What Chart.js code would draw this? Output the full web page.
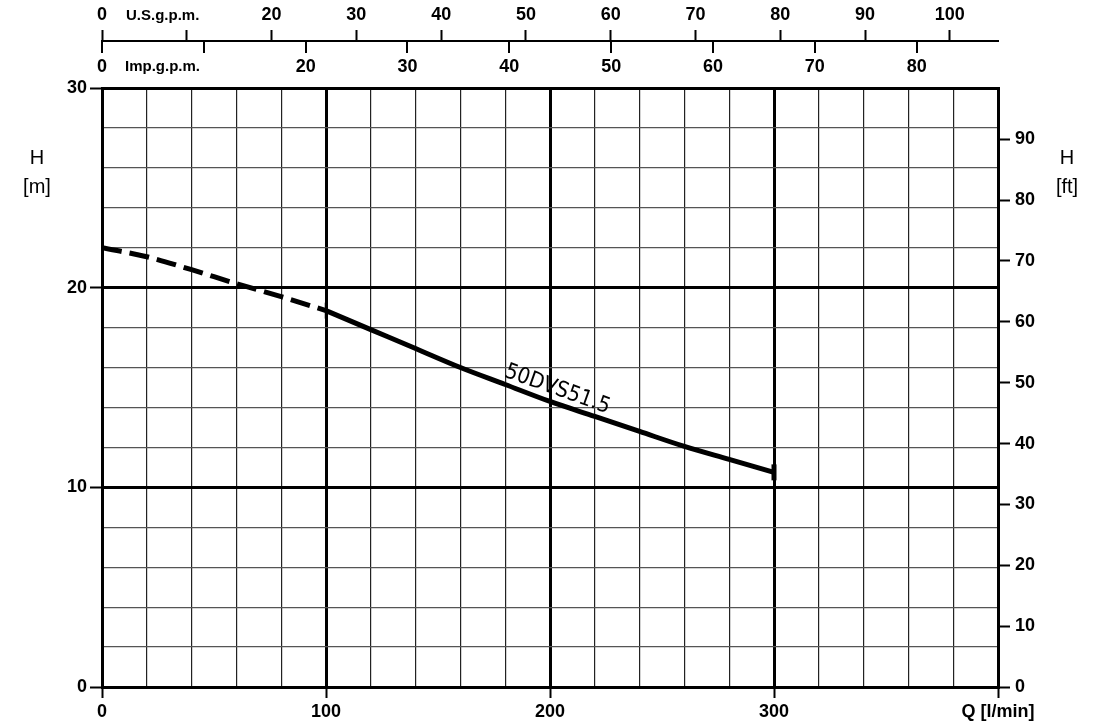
<!DOCTYPE html>
<html>
<head>
<meta charset="utf-8">
<script src="https://cdn.jsdelivr.net/npm/chart.js@4.4.1/dist/chart.umd.min.js"></script>
<style>
  html, body { margin: 0; padding: 0; background: #fff; }
  canvas { display: block; }
</style>
</head>
<body>
<canvas id="pumpChart" width="1107" height="725"></canvas>
<script>
// pump curve 50DVS51.5
const flowLpm = [0, 20, 40, 60, 80, 100, 120, 140, 160, 180, 200, 220, 240, 260, 280, 300];
const headM   = [22.0, 21.55, 20.9, 20.2, 19.55, 18.85, 17.9, 16.95, 16.0, 15.15, 14.3, 13.55, 12.8, 12.05, 11.4, 10.75];
const dashedUpTo = 100;          // curve is dashed below this flow
const curveName = '50DVS51.5';
const labelFlow = 200;

// axis ranges and labels
const qMax = 400, hMax = 30;
const qLabels = { 0: '0', 100: '100', 200: '200', 300: '300', 400: 'Q [l/min]' };
const hLabels = [0, 10, 20, 30];
const usGallon = 3.785, impGallon = 4.546, footM = 0.3048;
const usText = 'U.S.g.p.m.', impText = 'Imp.g.p.m.';

const tickFont = { family: '"Liberation Sans", Arial, sans-serif', size: 18, weight: 'bold' };
const black = '#000';

const pts = flowLpm.map((q, i) => ({ x: q, y: headM[i] }));
const dashedPts = pts.filter(p => p.x <= dashedUpTo);
const solidPts = pts.filter(p => p.x >= dashedUpTo);
const endMarks = [pts[flowLpm.indexOf(dashedUpTo)], pts[pts.length - 1]];

const extras = {
  id: 'extras',
  afterDraw(chart) {
    const { ctx, scales } = chart;
    const us = scales.us, imp = scales.imp, x = scales.x, y = scales.y;
    ctx.save();
    // Imp ticks hang below the shared line
    ctx.strokeStyle = black;
    ctx.lineWidth = 2;
    imp.ticks.forEach(t => {
      const px = Math.round(imp.getPixelForValue(t.value));
      ctx.beginPath();
      ctx.moveTo(px, us.bottom - 1);
      ctx.lineTo(px, us.bottom + 12);
      ctx.stroke();
    });

    ctx.fillStyle = black;
    ctx.textBaseline = 'middle';
    ctx.textAlign = 'left';
    ctx.font = 'bold 15px "Liberation Sans", Arial, sans-serif';
    ctx.fillText(usText, us.getPixelForValue(0) + 24, 16);
    ctx.fillText(impText, imp.getPixelForValue(0) + 23, 67);

    // H labels both sides
    ctx.textAlign = 'center';
    ctx.font = '20px "Liberation Sans", Arial, sans-serif';
    ctx.fillText('H', 37, 158);
    ctx.fillText('[m]', 37, 187);
    ctx.fillText('H', 1067, 158);
    ctx.fillText('[ft]', 1067, 187);

    // curve name along the line
    const i = flowLpm.indexOf(labelFlow);
    const x0 = x.getPixelForValue(flowLpm[i - 1]), y0 = y.getPixelForValue(headM[i - 1]);
    const x1 = x.getPixelForValue(flowLpm[i + 1]), y1 = y.getPixelForValue(headM[i + 1]);
    const ang = Math.atan2(y1 - y0, x1 - x0);
    ctx.translate(x.getPixelForValue(labelFlow) + 3, y.getPixelForValue(headM[i]));
    ctx.rotate(ang);
    ctx.textBaseline = 'alphabetic';
    ctx.font = '22px "DejaVu Sans Condensed", "Liberation Sans", sans-serif';
    ctx.fillText(curveName, 0, -7);
    ctx.restore();
  }
};

new Chart(document.getElementById('pumpChart'), {
  type: 'line',
  data: {
    datasets: [
      {
        data: dashedPts,
        borderColor: black,
        borderWidth: 5,
        borderDash: [20, 8],
        pointRadius: 0,
        cubicInterpolationMode: 'monotone',
        xAxisID: 'x', yAxisID: 'y'
      },
      {
        data: solidPts,
        borderColor: black,
        borderWidth: 5,
        pointRadius: 0,
        cubicInterpolationMode: 'monotone',
        xAxisID: 'x', yAxisID: 'y'
      },
      {
        data: endMarks,
        showLine: false,
        pointStyle: 'line',
        rotation: 90,
        pointRadius: 8,
        pointBorderWidth: [2.5, 5],
        pointBorderColor: black,
        xAxisID: 'x', yAxisID: 'y'
      }
    ]
  },
  options: {
    responsive: false,
    animation: false,
    devicePixelRatio: 1,
    layout: { padding: 0 },
    plugins: { legend: { display: false }, tooltip: { enabled: false } },
    scales: {
      x: {
        type: 'linear', position: 'bottom', min: 0, max: qMax,
        afterFit: s => { s.height = 38; },
        border: { display: true, width: 3, color: black },
        grid: {
          color: c => c.tick && c.tick.value % 100 === 0 ? black : '#222',
          lineWidth: c => c.tick && c.tick.value % 100 === 0 ? 3 : 1.2,
          tickLength: 11,
          tickWidth: 2,
          tickColor: c => c.tick && c.tick.value % 100 === 0 ? black : 'rgba(0,0,0,0)'
        },
        ticks: {
          stepSize: 20, autoSkip: false, maxRotation: 0, padding: 3,
          color: black, font: tickFont,
          callback: v => qLabels[v] !== undefined ? qLabels[v] : ''
        }
      },
      y: {
        type: 'linear', position: 'left', min: 0, max: hMax,
        afterFit: s => { s.width = 102; },
        border: { display: true, width: 3, color: black },
        grid: {
          color: c => c.tick && c.tick.value % 10 === 0 ? black : '#555',
          lineWidth: c => c.tick && c.tick.value % 10 === 0 ? 3 : 1.2,
          tickLength: 12,
          tickWidth: 2,
          tickColor: c => c.tick && c.tick.value % 10 === 0 ? black : 'rgba(0,0,0,0)'
        },
        ticks: {
          stepSize: 2, autoSkip: false, padding: 3,
          color: black, font: tickFont,
          callback: v => hLabels.includes(v) ? String(v) : ''
        }
      },
      ft: {
        type: 'linear', position: 'right', min: 0, max: hMax / footM,
        afterFit: s => { s.width = 109; },
        border: { display: true, width: 3, color: black },
        grid: { drawOnChartArea: false, tickLength: 12, tickWidth: 2, tickColor: black },
        ticks: { stepSize: 10, includeBounds: false, padding: 5, color: black, font: tickFont }
      },
      imp: {
        type: 'linear', position: 'top', weight: 1, min: 0, max: qMax / impGallon,
        afterFit: s => { s.height = 47; },
        border: { display: true, width: 3, color: black },
        grid: { drawOnChartArea: false, drawTicks: false },
        ticks: {
          stepSize: 10, includeBounds: false, padding: 10, color: black, font: tickFont,
          callback: v => v === 10 ? '' : String(v)
        }
      },
      us: {
        type: 'linear', position: 'top', weight: 2, min: 0, max: qMax / usGallon,
        afterFit: s => { s.height = 41; },
        border: { display: true, width: 2, color: black },
        grid: { drawOnChartArea: false, tickLength: 11, tickWidth: 2, tickColor: black },
        ticks: {
          stepSize: 10, includeBounds: false, padding: 4, color: black, font: tickFont,
          callback: v => v === 10 ? '' : String(v)
        }
      }
    }
  },
  plugins: [extras]
});
</script>
</body>
</html>
